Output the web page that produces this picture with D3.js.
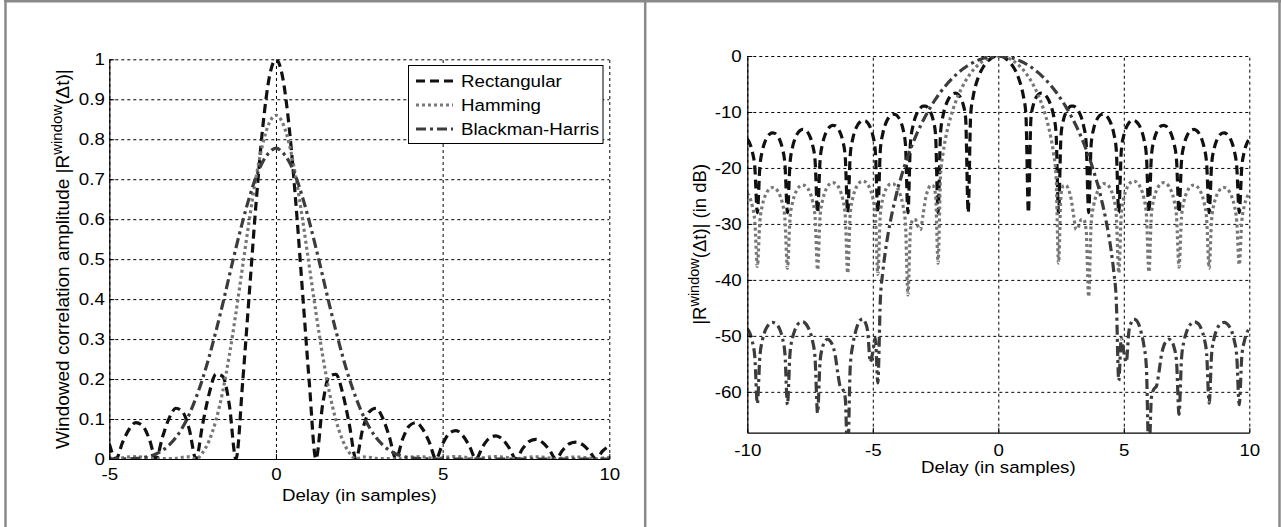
<!DOCTYPE html>
<html><head><meta charset="utf-8">
<script src="https://cdn.jsdelivr.net/npm/d3@7"></script>
<style>
html,body{margin:0;padding:0;background:#fff;}
svg{display:block;}
text{font-family:"Liberation Sans",Arial,Helvetica,sans-serif;fill:#000;}
</style></head><body>
<svg id="c" width="1281" height="527"></svg>
<script>
// ---------- data: linear panel (delay in samples, amplitude) ----------
const linDelay = [-5,-4.8,-4.6,-4.4,-4.2,-4,-3.8,-3.6,-3.4,-3.2,-3,-2.8,-2.6,-2.4,-2.2,-2,-1.8,-1.6,-1.4,-1.2,-1,-0.8,-0.6,-0.4,-0.2,
0,0.2,0.4,0.6,0.8,1,1.2,1.4,1.6,1.8,2,2.2,2.4,2.6,2.8,3,3.2,3.4,3.6,3.8,4,4.2,4.4,4.6,4.8,5,5.2,5.4,5.6,5.8,6,6.2,6.4,6.6,6.8,7,7.2,7.4,7.6,7.8,8,8.2,8.4,8.6,8.8,9,9.2,9.4,9.6,9.8,10];
const linRect = [.038,0,.042,.075,.091,.083,.050,0,.056,.103,.127,.118,.074,0,.087,.165,.212,.207,.136,0,.191,.414,.637,.827,.955,
1,.955,.827,.637,.414,.191,0,.136,.207,.212,.165,.087,0,.074,.118,.127,.103,.056,0,.050,.083,.091,.075,.042,0,.038,.064,.071,.059,.033,0,.031,.052,.058,.049,.027,0,.026,.044,.049,.041,.023,0,.022,.038,.042,.036,.020,0,.020,.033];
const linHamming = [.0032,0,.0031,.0052,.0057,.0045,.0023,0,.0013,.0008,.0015,.0044,.0052,0,.016,.047,.097,.168,.259,.366,.482,.598,.703,.787,.841,
.86,.841,.787,.703,.598,.482,.366,.259,.168,.097,.047,.016,0,.0052,.0044,.0015,.0008,.0013,0,.0023,.0045,.0057,.0052,.0031,0,.0032,.0054,.0063,.0052,.0029,0,.003,.0051,.0059,.0049,.0028,0,.0028,.0047,.0054,.0046,.0026,0,.0025,.0042,.0048,.0041,.0023,0,.0023,.0039];
const linBH = [0,0,.0001,.0005,.0014,.0034,.0068,.0126,.0217,.0352,.054,.0794,.112,.153,.201,.257,.32,.387,.458,.528,.594,.654,.705,.743,.767,
.778,.767,.743,.705,.654,.594,.528,.458,.387,.32,.257,.201,.153,.112,.0794,.054,.0352,.0217,.0126,.0068,.0034,.0014,.0005,.0001,0,0,0,0,0,0,0,0,0,0,0,0,0,0,0,0,0,0,0,0,0,0,0,0,0,0,0];

// ---------- data: dB panel ----------
const dbDelay = [-10,-9.9,-9.8,-9.7,-9.6,-9.5,-9.4,-9.3,-9.2,-9.1,-9,-8.9,-8.8,-8.7,-8.6,-8.5,-8.4,-8.3,-8.2,-8.1,
-8,-7.9,-7.8,-7.7,-7.6,-7.5,-7.4,-7.3,-7.2,-7.1,-7,-6.9,-6.8,-6.7,-6.6,-6.5,-6.4,-6.3,-6.2,-6.1,
-6,-5.9,-5.8,-5.7,-5.6,-5.5,-5.4,-5.3,-5.2,-5.1,-5,-4.9,-4.8,-4.7,-4.6,-4.5,-4.4,-4.3,-4.2,-4.1,
-4,-3.9,-3.8,-3.7,-3.6,-3.5,-3.4,-3.3,-3.2,-3.1,-3,-2.9,-2.8,-2.7,-2.6,-2.5,-2.4,-2.3,-2.2,-2.1,
-2,-1.9,-1.8,-1.7,-1.6,-1.5,-1.4,-1.3,-1.2,-1.1,-1,-0.9,-0.8,-0.7,-0.6,-0.5,-0.4,-0.3,-0.2,-0.1,
0,0.1,0.2,0.3,0.4,0.5,0.6,0.7,0.8,0.9,1,1.1,1.2,1.3,1.4,1.5,1.6,1.7,1.8,1.9,
2,2.1,2.2,2.3,2.4,2.5,2.6,2.7,2.8,2.9,3,3.1,3.2,3.3,3.4,3.5,3.6,3.7,3.8,3.9,
4,4.1,4.2,4.3,4.4,4.5,4.6,4.7,4.8,4.9,5,5.1,5.2,5.3,5.4,5.5,5.6,5.7,5.8,5.9,
6,6.1,6.2,6.3,6.4,6.5,6.6,6.7,6.8,6.9,7,7.1,7.2,7.3,7.4,7.5,7.6,7.7,7.8,7.9,
8,8.1,8.2,8.3,8.4,8.5,8.6,8.7,8.8,8.9,9,9.1,9.2,9.3,9.4,9.5,9.6,9.7,9.8,9.9,10];
const dbRect = [-14.81,-15.64,-17.1,-19.92,-28,-19.83,-16.92,-15.37,-14.44,-13.92,
-13.72,-13.83,-14.25,-15.08,-16.54,-19.34,-28,-19.24,-16.33,-14.77,
-13.84,-13.31,-13.1,-13.2,-13.61,-14.44,-15.88,-18.68,-28,-18.56,
-15.64,-14.07,-13.13,-12.59,-12.38,-12.46,-12.87,-13.68,-15.11,-17.9,
-28,-17.76,-14.82,-13.24,-12.29,-11.74,-11.5,-11.57,-11.97,-12.76,
-14.18,-16.95,-28,-16.77,-13.82,-12.22,-11.24,-10.67,-10.41,-10.46,
-10.83,-11.6,-12.99,-15.73,-28,-15.49,-12.51,-10.87,-9.86,-9.25,
-8.95,-8.96,-9.28,-10,-11.34,-14.03,-28,-13.67,-10.61,-8.91,
-7.82,-7.12,-6.73,-6.64,-6.85,-7.45,-8.65,-11.19,-28,-10.46,
-7.19,-5.23,-3.84,-2.78,-1.96,-1.32,-0.83,-0.46,-0.2,-0.05,
0,
-0.05,-0.2,-0.46,-0.83,-1.32,-1.96,-2.78,-3.84,-5.23,-7.19,
-10.46,-28,-11.19,-8.65,-7.45,-6.85,-6.64,-6.73,-7.12,-7.82,
-8.91,-10.61,-13.67,-28,-14.03,-11.34,-10,-9.28,-8.96,-8.95,
-9.25,-9.86,-10.87,-12.51,-15.49,-28,-15.73,-12.99,-11.6,-10.83,
-10.46,-10.41,-10.67,-11.24,-12.22,-13.82,-16.77,-28,-16.95,-14.18,
-12.76,-11.97,-11.57,-11.5,-11.74,-12.29,-13.24,-14.82,-17.76,-28,
-17.9,-15.11,-13.68,-12.87,-12.46,-12.38,-12.59,-13.13,-14.07,-15.64,
-18.56,-28,-18.68,-15.88,-14.44,-13.61,-13.2,-13.1,-13.31,-13.84,
-14.77,-16.33,-19.24,-28,-19.34,-16.54,-15.08,-14.25,-13.83,-13.72,
-13.92,-14.44,-15.37,-16.92,-19.83,-28,-19.92,-17.1,-15.64,-14.81];
const dbHamming = [-24.48,-25.32,-26.79,-29.62,-37.6,-29.55,-26.65,-25.11,-24.19,-23.68,
-23.49,-23.61,-24.04,-24.89,-26.35,-29.18,-37.9,-29.1,-26.21,-24.66,
-23.75,-23.23,-23.05,-23.16,-23.6,-24.44,-25.91,-28.73,-38.2,-28.66,
-25.77,-24.22,-23.31,-22.8,-22.62,-22.74,-23.18,-24.03,-25.51,-28.34,
-38.8,-28.29,-25.41,-23.88,-22.99,-22.5,-22.34,-22.48,-22.96,-23.84,
-25.35,-28.23,-39,-28.29,-25.48,-24.03,-23.23,-22.85,-22.81,-23.11,
-23.72,-24.88,-26.68,-29.92,-42.7,-31.09,-29.2,-29.24,-30.43,-31,
-28.46,-25.51,-23.89,-23.11,-23.18,-24.74,-37,-21.35,-17.34,-14.68,
-12.62,-10.92,-9.46,-8.2,-7.08,-6.09,-5.21,-4.41,-3.71,-3.08,
-2.51,-2.02,-1.58,-1.2,-0.88,-0.61,-0.39,-0.22,-0.1,-0.02,
0,
-0.02,-0.1,-0.22,-0.39,-0.61,-0.88,-1.2,-1.58,-2.02,-2.51,
-3.08,-3.71,-4.41,-5.21,-6.09,-7.08,-8.2,-9.46,-10.92,-12.62,
-14.68,-17.34,-21.35,-37,-24.74,-23.18,-23.11,-23.89,-25.51,-28.46,
-31,-30.43,-29.24,-29.2,-31.09,-43,-29.92,-26.68,-24.88,-23.72,
-23.11,-22.81,-22.85,-23.23,-24.03,-25.48,-28.29,-38.8,-28.23,-25.35,
-23.84,-22.96,-22.48,-22.34,-22.5,-22.99,-23.88,-25.41,-28.29,-38.6,
-28.34,-25.51,-24.03,-23.18,-22.74,-22.62,-22.8,-23.31,-24.22,-25.77,
-28.66,-37.7,-28.73,-25.91,-24.44,-23.6,-23.16,-23.05,-23.23,-23.75,
-24.66,-26.21,-29.1,-37.9,-29.18,-26.35,-24.89,-24.04,-23.61,-23.49,
-23.68,-24.19,-25.11,-26.65,-29.55,-37.3,-29.62,-26.79,-25.32,-24.48];
const dbBH = [-48.7,-49.5,-51,-53.8,-62.1,-53.7,-50.8,-49.2,-48.3,-47.8,
-47.6,-47.7,-48.1,-48.9,-50.4,-53.2,-62.3,-53.2,-50.4,-48.9,
-48,-47.6,-47.5,-47.7,-48.3,-49.3,-50.9,-54,-63.8,-54.5,
-52,-50.9,-50.6,-50.9,-51.7,-53.4,-56.5,-59,-59.5,-61,
-72,-55.6,-51.7,-49.5,-48,-47.2,-47,-47.6,-49.3,-54.7,
-52.9,-50.4,-58.4,-43.62,-38.51,-34.91,-32.02,-29.56,-27.39,-25.48,
-23.56,-22.07,-20.57,-19.18,-17.88,-16.67,-15.52,-14.45,-13.43,-12.47,
-11.57,-10.71,-9.9,-9.13,-8.4,-7.71,-7.06,-6.44,-5.86,-5.31,
-4.79,-4.3,-3.84,-3.41,-3.01,-2.64,-2.29,-1.97,-1.67,-1.4,
-1.16,-0.93,-0.74,-0.56,-0.41,-0.29,-0.18,-0.1,-0.05,-0.01,
0,
-0.01,-0.05,-0.1,-0.18,-0.29,-0.41,-0.56,-0.74,-0.93,-1.16,
-1.4,-1.67,-1.97,-2.29,-2.64,-3.01,-3.41,-3.84,-4.3,-4.79,
-5.31,-5.86,-6.44,-7.06,-7.71,-8.4,-9.13,-9.9,-10.71,-11.57,
-12.47,-13.43,-14.45,-15.52,-16.67,-17.88,-19.18,-20.57,-22.07,-23.56,
-25.48,-27.39,-29.56,-32.02,-34.91,-38.51,-43.62,-58,-50.4,-52.9,
-54.7,-49.3,-47.6,-47,-47.2,-48,-49.5,-51.7,-55.6,-72,
-61,-59.5,-59,-56.5,-53.4,-51.7,-50.9,-50.6,-50.9,-52,
-54.5,-64,-54,-50.9,-49.3,-48.3,-47.7,-47.5,-47.6,-48,
-48.9,-50.4,-53.2,-62,-53.2,-50.4,-48.9,-48.1,-47.7,-47.6,
-47.8,-48.3,-49.2,-50.8,-53.7,-62.3,-53.8,-51,-49.5,-48.7];

// ---------- labels / ticks ----------
const seriesNames = ["Rectangular","Hamming","Blackman-Harris"];
const linXTicks = [-5,0,5,10];
const linYTicks = [0,0.1,0.2,0.3,0.4,0.5,0.6,0.7,0.8,0.9,1];
const linYTickLabels = ["0","0.1","0.2","0.3","0.4","0.5","0.6","0.7","0.8","0.9","1"];
const dbXTicks = [-10,-5,0,5,10];
const dbYTicks = [-60,-50,-40,-30,-20,-10,0];
const xLabel = "Delay (in samples)";

// ---------- styles ----------
const styles = [
  {stroke:"#111", dash:"9,5"},
  {stroke:"#777", dash:"3,3"},
  {stroke:"#3c3c3c", dash:"10,4,3,4"}
];
const FS = 17, STRETCH = 1.1;

const svg = d3.select("#c");
svg.append("rect").attr("width",1281).attr("height",527).attr("fill","#fff");

// outer frame
const frame = svg.append("g").attr("stroke","#8a8a8a").attr("stroke-width",2.5);
frame.append("line").attr("x1",4).attr("x2",1281).attr("y1",1.2).attr("y2",1.2);
frame.append("line").attr("x1",5.5).attr("x2",5.5).attr("y1",0).attr("y2",527);
frame.append("line").attr("x1",645.2).attr("x2",645.2).attr("y1",0).attr("y2",527);
frame.append("line").attr("x1",1279.5).attr("x2",1279.5).attr("y1",0).attr("y2",527);

function stretchText(sel){
  sel.each(function(){
    const t = d3.select(this);
    const x = +t.attr("x") || 0;
    t.attr("transform", `translate(${x*(1-STRETCH)},0) scale(${STRETCH},1)`);
  });
}

function panel(o){
  const g = svg.append("g");
  const x = d3.scaleLinear().domain(o.xDomain).range([o.left,o.right]);
  const y = d3.scaleLinear().domain(o.yDomain).range([o.bottom,o.top]);
  const W = o.right-o.left, H = o.bottom-o.top;

  // grid
  const gx = g.append("g").attr("transform",`translate(0,${o.bottom})`)
    .call(d3.axisBottom(x).tickValues(o.xTicks).tickSize(-H).tickFormat(""));
  const gy = g.append("g").attr("transform",`translate(${o.left},0)`)
    .call(d3.axisLeft(y).tickValues(o.yTicks).tickSize(-W).tickFormat(""));
  [gx,gy].forEach(a=>{
    a.select(".domain").remove();
    a.selectAll("line").attr("stroke","#000").attr("stroke-width",1).attr("stroke-dasharray","3,3");
  });

  // clip
  const cid = "clip"+o.id;
  svg.append("clipPath").attr("id",cid).append("rect")
    .attr("x",o.left).attr("y",o.top).attr("width",W).attr("height",H);

  const line = d3.line().x(d=>x(d[0])).y(d=>y(d[1])).curve(d3.curveMonotoneX);
  const lines = g.append("g").attr("clip-path",`url(#${cid})`);
  o.series.forEach((s,i)=>{
    const pts = o.xs.map((v,j)=>[v,s[j]]);
    lines.append("path").attr("d",line(pts)).attr("fill","none")
      .attr("stroke",styles[i].stroke).attr("stroke-width",3.2)
      .attr("stroke-dasharray",styles[i].dash).attr("stroke-linejoin","round");
  });

  // axes (left & bottom solid, ticks inward)
  const ax = g.append("g").attr("transform",`translate(0,${o.bottom})`)
    .call(d3.axisBottom(x).tickValues(o.xTicks).tickSizeInner(-5).tickSizeOuter(0).tickPadding(o.xPad)
      .tickFormat(d=>String(d)));
  const ay = g.append("g").attr("transform",`translate(${o.left},0)`)
    .call(d3.axisLeft(y).tickValues(o.yTicks).tickSizeInner(-5).tickSizeOuter(0).tickPadding(o.yPad)
      .tickFormat(o.yFormat));
  [ax,ay].forEach(a=>{
    a.select(".domain").attr("stroke","#000").attr("stroke-width",1.2);
    a.selectAll("line").attr("stroke","#000");
    a.selectAll("text").style("font-size",FS+"px").style("font-family","'Liberation Sans',Arial,sans-serif").attr("fill","#000");
    stretchText(a.selectAll("text"));
  });

  // x label
  const xl = g.append("text").attr("x",(o.left+o.right)/2).attr("y",o.xLabelY)
    .attr("text-anchor","middle").style("font-size",FS+"px").text(xLabel);
  stretchText(xl);

  // y label
  const yl = g.append("text").attr("transform",`translate(${o.yLabelX},${(o.top+o.bottom)/2}) rotate(-90)`)
    .attr("text-anchor","middle").style("font-size",o.yLabelFS+"px");
  yl.append("tspan").text(o.yLabelPre);
  yl.append("tspan").attr("dy",-7).style("font-size",(o.yLabelFS-4)+"px").text("window");
  yl.append("tspan").attr("dy",7).text(o.yLabelPost);
  return {g,x,y};
}

// left panel
const P1 = panel({
  id:1, xDomain:[-5,10], yDomain:[0,1], left:109.3, right:609.3, top:59.3, bottom:459,
  xTicks:linXTicks, yTicks:linYTicks, xPad:9, yPad:4.5,
  yFormat:(d)=>linYTickLabels[linYTicks.indexOf(d)],
  xs:linDelay, series:[linRect,linHamming,linBH],
  xLabelY:501, yLabelX:69, yLabelFS:19,
  yLabelPre:"Windowed correlation amplitude |R", yLabelPost:"(\u0394t)|"
});

// right panel
const P2 = panel({
  id:2, xDomain:[-10,10], yDomain:[-67.3,0], left:747.3, right:1249.3, top:56, bottom:432.7,
  xTicks:dbXTicks, yTicks:dbYTicks, xPad:11, yPad:5.6,
  yFormat:d=>String(d),
  xs:dbDelay, series:[dbRect,dbHamming,dbBH],
  xLabelY:473, yLabelX:706, yLabelFS:18.5,
  yLabelPre:"|R", yLabelPost:"(\u0394t)| (in dB)"
});

// legend (left panel)
const leg = P1.g.append("g");
leg.append("rect").attr("x",408.5).attr("y",65.5).attr("width",194.5).attr("height",78)
  .attr("fill","#fff").attr("stroke","#000").attr("stroke-width",1);
const legRows = [81,105,129];
seriesNames.forEach((n,i)=>{
  leg.append("line").attr("x1",416).attr("x2",453).attr("y1",legRows[i]).attr("y2",legRows[i])
    .attr("stroke",styles[i].stroke).attr("stroke-width",3.2).attr("stroke-dasharray",styles[i].dash);
  const t = leg.append("text").attr("x",461).attr("y",legRows[i]).attr("dy","0.36em")
    .style("font-size",FS+"px").text(n);
  stretchText(t);
});
</script>
</body></html>
